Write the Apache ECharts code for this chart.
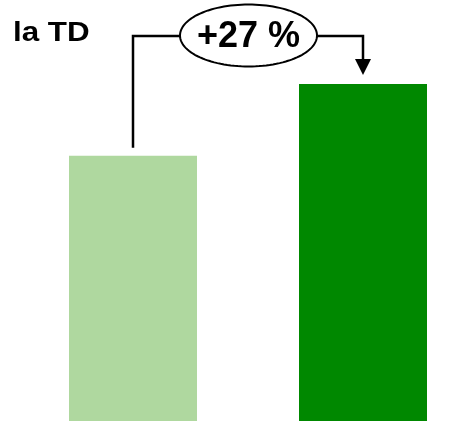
<!DOCTYPE html>
<html>
<head>
<meta charset="utf-8">
<script src="https://cdn.jsdelivr.net/npm/echarts@6/dist/echarts.min.js"></script>
<style>
  html, body { margin: 0; padding: 0; background: #ffffff; }
  #chart { width: 457px; height: 421px; }
</style>
</head>
<body>
<div id="chart"></div>
<script>
// Two periods compared, second one shows the growth label
const categories = ['Avant', 'Après'];
const values = [100, 127];
const barColors = ['#afd89f', '#008800'];
const titleLines = ['Évolution des demandes de', 'la TD'];

const chart = echarts.init(document.getElementById('chart'), null, { renderer: 'canvas' });

const option = {
  animation: false,
  backgroundColor: '#ffffff',
  grid: { left: 18, width: 460, top: 84, bottom: 0, containLabel: false, outerBoundsMode: 'none' },
  xAxis: {
    type: 'category',
    data: categories,
    show: false
  },
  yAxis: {
    type: 'value',
    min: 0,
    max: 127,
    show: false
  },
  series: [{
    type: 'bar',
    barWidth: 128,
    data: values.map((v, i) => ({ value: v, itemStyle: { color: barColors[i] } }))
  }]
};
chart.setOption(option);

// Growth annotation: bracket from the first bar to an arrow on the second
function drawAnnotation() {
  const p1 = chart.convertToPixel({ seriesIndex: 0 }, [0, values[0]]);
  const p2 = chart.convertToPixel({ seriesIndex: 0 }, [1, values[1]]);
  const lineY = 36;
  const cx = (p1[0] + p2[0]) / 2 + 0.5;
  const cy = 35.5;
  const rx = 68.5, ry = 31;
  const pct = Math.round((values[1] / values[0] - 1) * 100);

  const ellipsePts = [];
  for (let k = 0; k < 120; k++) {
    const a = (k / 120) * Math.PI * 2;
    ellipsePts.push([cx + rx * Math.cos(a), cy + ry * Math.sin(a)]);
  }
  const stroke = { stroke: '#000000', lineWidth: 2.5, fill: null };
  const titleFont = 'bold 28px "Liberation Sans", Arial, sans-serif';

  chart.setOption({
    graphic: [
      {
        type: 'text', x: 40, y: -23.5, scaleX: 1.12,
        style: { text: titleLines[0], font: titleFont, fill: '#000000', verticalAlign: 'top' }
      },
      {
        type: 'text', x: 13, y: 19, scaleX: 1.12,
        style: { text: titleLines[1], font: titleFont, fill: '#000000', verticalAlign: 'top' }
      },
      {
        type: 'polyline',
        shape: { points: [[p1[0], p1[1] - 8], [p1[0], lineY], [cx - rx, lineY]] },
        style: stroke
      },
      {
        type: 'polyline',
        shape: { points: [[cx + rx, lineY], [p2[0], lineY], [p2[0], p2[1] - 24]] },
        style: stroke
      },
      {
        type: 'polygon',
        shape: { points: [[p2[0] - 8, p2[1] - 25], [p2[0] + 8, p2[1] - 25], [p2[0], p2[1] - 9]] },
        style: { fill: '#000000' }
      },
      {
        type: 'polygon',
        shape: { points: ellipsePts },
        style: { stroke: '#000000', lineWidth: 2, fill: '#ffffff' }
      },
      {
        type: 'text', x: cx, y: cy + 2,
        style: {
          text: '+' + pct + ' %',
          font: 'bold 36px "Liberation Sans", Arial, sans-serif',
          fill: '#000000', align: 'center', verticalAlign: 'middle'
        }
      }
    ]
  });
}
drawAnnotation();
</script>
</body>
</html>
